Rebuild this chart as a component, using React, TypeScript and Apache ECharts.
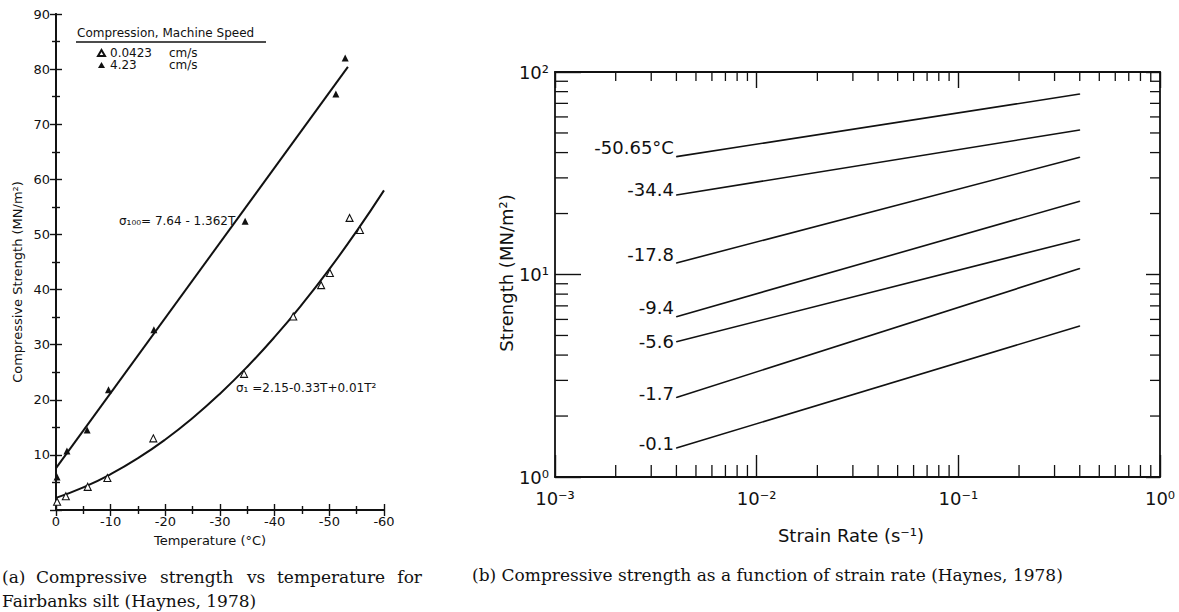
import React, { useEffect, useRef } from "react";
import * as echarts from "echarts";

// ---------- Panel (a): compressive strength vs temperature (Fairbanks silt) ----------
const slowSpeedName = "0.0423 cm/s";
const fastSpeedName = "4.23 cm/s";
// [temperature °C, strength MN/m²]
const slowSpeedPoints: [number, number][] = [
  [-0.2, 1.5], [-1.8, 2.5], [-5.8, 4.2], [-9.4, 5.8], [-17.8, 13.0], [-34.4, 24.7],
  [-43.4, 35.1], [-48.5, 40.8], [-50.1, 43.0], [-53.7, 53.0], [-55.6, 50.8],
];
const fastSpeedPoints: [number, number][] = [
  [-0.2, 6.0], [-2.0, 10.7], [-5.7, 14.5], [-9.6, 21.8], [-17.9, 32.7],
  [-34.6, 52.4], [-51.2, 75.5], [-52.9, 82.0],
];
const fastFitLine: [number, number][] = [[0, 7.6], [-53.4, 80.4]];
const slowFitCurve: [number, number][] = [
  [0, 2.2], [-5, 4.1], [-10, 6.5], [-15, 9.4], [-20, 12.8], [-25, 16.7], [-30, 21.1],
  [-35, 26.0], [-40, 31.4], [-45, 37.3], [-50, 43.7], [-55, 50.6], [-60, 58.0],
];

// ---------- Panel (b): strength vs strain rate ----------
const curveTemperatures = ["-50.65°C", "-34.4", "-17.8", "-9.4", "-5.6", "-1.7", "-0.1"];
const curveStartRate = 0.004;
const curveEndRate = 0.4;
const curveStartStrength = [38.2, 24.7, 11.4, 6.19, 4.66, 2.47, 1.39];
const curveEndStrength = [77.8, 51.7, 37.9, 23.0, 14.9, 10.7, 5.57];

const strainDecades = [0.001, 0.01, 0.1, 1];
const strainDecadeLabels = ["10⁻³", "10⁻²", "10⁻¹", "10⁰"];
const strengthDecades = [1, 10, 100];
const strengthDecadeLabels = ["10⁰", "10¹", "10²"];
const strainMinorTicks = [
  0.002, 0.003, 0.004, 0.005, 0.006, 0.007, 0.008, 0.009,
  0.02, 0.03, 0.04, 0.05, 0.06, 0.07, 0.08, 0.09,
  0.2, 0.3, 0.4, 0.5, 0.6, 0.7, 0.8, 0.9,
];
const strengthMinorTicks = [2, 3, 4, 5, 6, 7, 8, 9, 20, 30, 40, 50, 60, 70, 80, 90];

// label vertical nudges (styling only)
const labelNudge = [-9, -5, -8, -9, 0, -4, -5];

const INK = "#111";
const SANS = "DejaVu Sans";
const SERIF = "DejaVu Serif";

function decadeFormatter(vals: number[], labels: string[]) {
  return (v: number) => {
    const i = vals.findIndex((t) => Math.abs(Math.log10(t) - Math.log10(v)) < 1e-6);
    return i >= 0 ? labels[i] : "";
  };
}

function txt(x: number, y: number, text: string, font: string, align = "left", rotation = 0) {
  return {
    type: "text",
    x,
    y,
    rotation,
    silent: true,
    style: {
      text,
      fill: INK,
      font,
      align,
      verticalAlign: "middle",
      textAlign: align,
      textVerticalAlign: "middle",
    },
  };
}

export default function App() {
  const ref = useRef<HTMLDivElement>(null);

  useEffect(() => {
    if (!ref.current) return;
    const chart = echarts.init(ref.current, null, { renderer: "svg" });

    const lineW = { color: INK, width: 1.4 };
    const frameW = { color: INK, width: 1.8 };
    const valAxisCommon = {
      axisLine: { show: true, lineStyle: frameW },
      axisTick: { show: true, inside: true, length: 6, lineStyle: lineW },
      minorTick: { show: true, splitNumber: 2, length: 4, lineStyle: lineW },
      splitLine: { show: false },
    };
    const logAxisCommon = {
      type: "log",
      logBase: 10,
      axisLine: { show: true, lineStyle: frameW },
      splitLine: { show: false },
      minorTick: { show: false },
    };

    const curveSeries = curveTemperatures.map((name, i) => ({
      type: "line",
      name,
      xAxisIndex: 2,
      yAxisIndex: 2,
      symbol: "circle",
      symbolSize: 1,
      itemStyle: { color: INK },
      lineStyle: { color: INK, width: 1.6 },
      silent: true,
      data: [
        {
          value: [curveStartRate, curveStartStrength[i]],
          label: {
            show: true,
            position: "left",
            distance: 2,
            offset: [0, labelNudge[i]],
            formatter: name,
            color: INK,
            fontFamily: SANS,
            fontSize: 18,
          },
        },
        { value: [curveEndRate, curveEndStrength[i]] },
      ],
    }));

    const cap = `17px "${SERIF}"`;

    const option: any = {
      animation: false,
      backgroundColor: "#ffffff",
      grid: [
        { left: 56, top: 14, width: 328, height: 496 },
        { left: 555, top: 72, width: 605, height: 405 },
      ],
      legend: {
        data: [
          { name: slowSpeedName, icon: "triangle" },
          { name: fastSpeedName, icon: "triangle" },
        ],
        orient: "vertical",
        left: 97,
        top: 47,
        padding: 0,
        itemWidth: 7,
        itemHeight: 6,
        itemGap: 0,
        selectedMode: false,
        formatter: (n: string) => {
          const [num, unit] = n.split(" ");
          return `{n|${num}}{u|${unit}}`;
        },
        textStyle: {
          color: INK,
          fontFamily: SANS,
          fontSize: 12,
          lineHeight: 12,
          rich: {
            n: { width: 59, fontSize: 12, fontFamily: SANS, color: INK, lineHeight: 12 },
            u: { fontSize: 12, fontFamily: SANS, color: INK, lineHeight: 12 },
          },
        },
      },
      xAxis: [
        {
          gridIndex: 0,
          type: "value",
          min: -60,
          max: 0,
          interval: 10,
          inverse: true,
          ...valAxisCommon,
          axisLabel: { color: INK, fontSize: 13, fontFamily: SANS, margin: 5 },
        },
        {
          gridIndex: 0,
          type: "value",
          position: "top",
          min: -60,
          max: 0,
          interval: 10,
          inverse: true,
          ...valAxisCommon,
          axisLabel: { show: false },
        },
        {
          gridIndex: 1,
          min: 0.001,
          max: 1,
          ...logAxisCommon,
          axisTick: { show: true, inside: true, length: 22, lineStyle: lineW },
          axisLabel: {
            color: INK,
            fontSize: 18,
            fontFamily: SANS,
            margin: 12,
            formatter: decadeFormatter(strainDecades, strainDecadeLabels),
          },
        },
        {
          gridIndex: 1,
          position: "top",
          min: 0.001,
          max: 1,
          ...logAxisCommon,
          axisTick: { show: true, inside: true, length: 16, lineStyle: lineW },
          axisLabel: { show: false },
        },
      ],
      yAxis: [
        {
          gridIndex: 0,
          type: "value",
          min: 0,
          max: 90,
          interval: 10,
          ...valAxisCommon,
          axisLabel: { color: INK, fontSize: 13, fontFamily: SANS, margin: 6, showMinLabel: false },
        },
        {
          gridIndex: 0,
          type: "value",
          position: "right",
          min: 0,
          max: 90,
          interval: 10,
          ...valAxisCommon,
          axisLabel: { show: false },
        },
        {
          gridIndex: 1,
          min: 1,
          max: 100,
          ...logAxisCommon,
          axisTick: { show: true, inside: true, length: 26, lineStyle: lineW },
          axisLabel: {
            color: INK,
            fontSize: 18,
            fontFamily: SANS,
            margin: 6,
            formatter: decadeFormatter(strengthDecades, strengthDecadeLabels),
          },
        },
        {
          gridIndex: 1,
          position: "right",
          min: 1,
          max: 100,
          ...logAxisCommon,
          axisTick: { show: true, inside: true, length: 14, lineStyle: lineW },
          axisLabel: { show: false },
        },
      ],
      series: [
        {
          type: "line",
          name: "σ100 fit",
          xAxisIndex: 0,
          yAxisIndex: 0,
          symbol: "none",
          lineStyle: { color: INK, width: 2 },
          silent: true,
          data: fastFitLine,
        },
        {
          type: "line",
          name: "σ1 fit",
          xAxisIndex: 0,
          yAxisIndex: 0,
          symbol: "none",
          smooth: true,
          lineStyle: { color: INK, width: 2 },
          silent: true,
          data: slowFitCurve,
        },
        {
          type: "scatter",
          name: slowSpeedName,
          xAxisIndex: 0,
          yAxisIndex: 0,
          symbol: "triangle",
          symbolSize: 7,
          itemStyle: { color: "#ffffff", borderColor: INK, borderWidth: 1.1, opacity: 1 },
          data: slowSpeedPoints,
          z: 5,
        },
        {
          type: "scatter",
          name: fastSpeedName,
          xAxisIndex: 0,
          yAxisIndex: 0,
          symbol: "triangle",
          symbolSize: 7,
          itemStyle: { color: INK, opacity: 1 },
          data: fastSpeedPoints,
          z: 5,
        },
        ...curveSeries,
        {
          type: "custom",
          name: "strain minor ticks",
          xAxisIndex: 2,
          yAxisIndex: 2,
          silent: true,
          clip: false,
          data: strainMinorTicks.map((v) => [v, 1]),
          encode: { x: 0, y: 1 },
          renderItem: (_p: any, api: any) => {
            const v = api.value(0);
            const b = api.coord([v, 1]);
            const t = api.coord([v, 100]);
            const st = { stroke: INK, lineWidth: 1.3 };
            return {
              type: "group",
              children: [
                { type: "line", shape: { x1: b[0], y1: b[1], x2: b[0], y2: b[1] - 12 }, style: st },
                { type: "line", shape: { x1: t[0], y1: t[1], x2: t[0], y2: t[1] + 9 }, style: st },
              ],
            };
          },
        },
        {
          type: "custom",
          name: "strength minor ticks",
          xAxisIndex: 2,
          yAxisIndex: 2,
          silent: true,
          clip: false,
          data: strengthMinorTicks.map((v) => [0.001, v]),
          encode: { x: 0, y: 1 },
          renderItem: (_p: any, api: any) => {
            const v = api.value(1);
            const l = api.coord([0.001, v]);
            const r = api.coord([1, v]);
            const st = { stroke: INK, lineWidth: 1.3 };
            return {
              type: "group",
              children: [
                { type: "line", shape: { x1: l[0], y1: l[1], x2: l[0] + 13, y2: l[1] }, style: st },
                { type: "line", shape: { x1: r[0], y1: r[1], x2: r[0] - 10, y2: r[1] }, style: st },
              ],
            };
          },
        },
      ],
      graphic: [
        txt(77, 33, "Compression, Machine Speed", `12px "${SANS}"`),
        {
          type: "line",
          silent: true,
          shape: { x1: 76, y1: 42, x2: 266, y2: 42 },
          style: { stroke: INK, lineWidth: 1.6 },
        },
        txt(119, 221, "σ₁₀₀= 7.64 - 1.362T", `12px "${SANS}"`),
        txt(236, 388, "σ₁ =2.15-0.33T+0.01T²", `12px "${SANS}"`),
        txt(17, 282, "Compressive Strength (MN/m²)", `13px "${SANS}"`, "center", Math.PI / 2),
        txt(210, 540, "Temperature (°C)", `13px "${SANS}"`, "center"),
        txt(506, 273, "Strength (MN/m²)", `18px "${SANS}"`, "center", Math.PI / 2),
        txt(851, 535, "Strain Rate (s⁻¹)", `18px "${SANS}"`, "center"),
        // captions
        txt(2, 577, "(a)", cap),
        txt(36, 577, "Compressive", cap),
        txt(160, 577, "strength", cap),
        txt(247, 577, "vs", cap),
        txt(277, 577, "temperature", cap),
        txt(422, 577, "for", cap, "right"),
        txt(2, 601, "Fairbanks silt (Haynes, 1978)", cap),
        txt(472, 575, "(b) Compressive strength as a function of strain rate (Haynes, 1978)", cap),
      ],
    };

    chart.setOption(option);
    return () => chart.dispose();
  }, []);

  return (
    <div
      ref={ref}
      style={{ position: "fixed", left: 0, top: 0, width: 1179, height: 612, background: "#fff" }}
    />
  );
}
